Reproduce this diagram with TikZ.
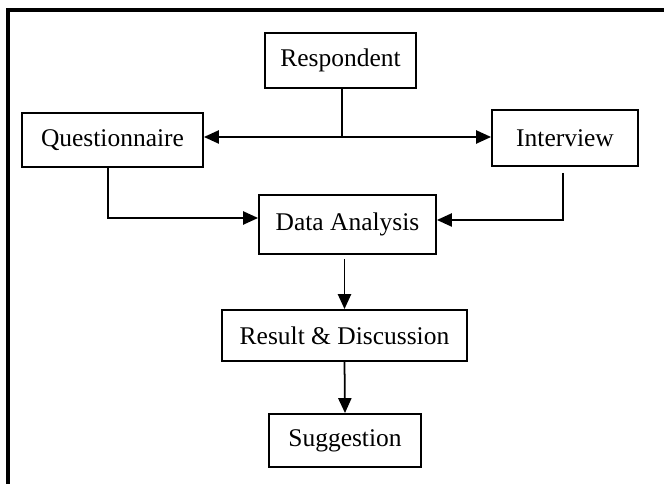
\documentclass[tikz,border=0pt]{standalone}
\usepackage{fontspec}
\setmainfont{Liberation Serif}
\usetikzlibrary{arrows.meta}
\begin{document}
\begin{tikzpicture}
  [box/.style={draw,line width=1.1pt,inner sep=0pt,font=\fontsize{14.5}{16}\selectfont},
   arr/.style={line width=1pt,-{Triangle[length=8.5pt,width=7.5pt]}}]
\useasboundingbox (0,0) rectangle (13.28,9.68);
\draw[line width=2pt] (0.16,0) -- (0.16,9.48) -- (13.28,9.48);

\node (resp)[box,minimum width=3.02cm,minimum height=1.1cm] at (6.81,8.47) {Respondent};
  \node (ques)[box,minimum width=3.62cm,minimum height=1.08cm] at (2.25,6.88) {Questionnaire};
  \node (intv)[box,minimum width=2.92cm,minimum height=1.12cm] at (11.3,6.92) {Interview};
  \node (data)[box,minimum width=3.54cm,minimum height=1.18cm] at (6.95,5.19) {Data Analysis};
  \node (res)[box,minimum width=4.9cm,minimum height=1.02cm] at (6.89,2.97) {Result \& Discussion};
  \node (sug)[box,minimum width=3.04cm,minimum height=1.06cm] at (6.9,0.87) {Suggestion};

 \coordinate (split) at (6.84,6.94);
 \draw[line width=1pt] ([xshift=0.03cm]resp.south) -- (split);
 \foreach \to in {ques.east,intv.west}
    \draw[arr] (split) -- (\to |- split);

 \draw[arr] ([xshift=-0.09cm]ques.south) |- ([yshift=0.13cm]data.west);
 \draw[arr] ([xshift=-0.04cm,yshift=-0.12cm]intv.south) |- ([yshift=0.09cm]data.east);
 \draw[arr] ([yshift=-0.08cm]data.south -| res.north) -- (res.north);
 \draw[arr] (res.south) -- (sug.north);
\end{tikzpicture}
\end{document}
